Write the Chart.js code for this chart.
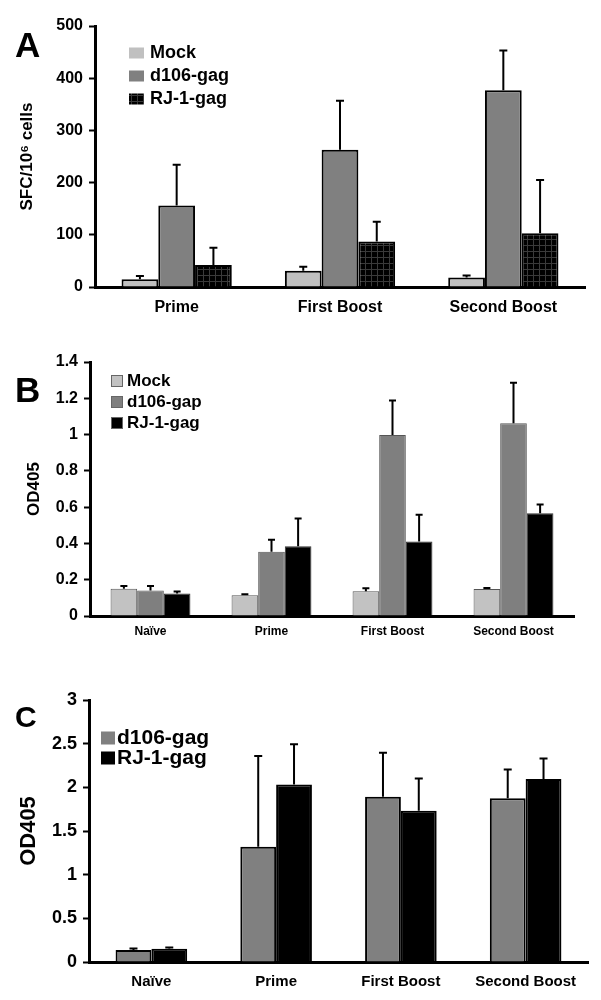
<!DOCTYPE html>
<html>
<head>
<meta charset="utf-8">
<script src="https://cdn.jsdelivr.net/npm/chart.js@4.4.1/dist/chart.umd.min.js"></script>
<style>
  body { margin: 0; background: #fff; width: 601px; }
  canvas { display: block; }
</style>
</head>
<body>
<canvas id="chartA" width="601" height="320"></canvas>
<canvas id="chartB" width="601" height="330"></canvas>
<canvas id="chartC" width="601" height="350"></canvas>
<script>
// panel A - ELISPOT
const catsA = ['Prime', 'First Boost', 'Second Boost'];
const mockA = [15, 31, 18];
const mockErrA = [6, 8, 4];
const d106A = [156, 263, 377];
const d106ErrA = [78, 94, 76];
const rjA = [42, 87, 103];
const rjErrA = [33, 38, 102];

// panel B - OD405
const catsB = ['Naïve', 'Prime', 'First Boost', 'Second Boost'];
const mockB = [0.15, 0.114, 0.136, 0.149];
const mockErrB = [0.015, 0.006, 0.017, 0.006];
const d106B = [0.14, 0.354, 0.998, 1.063];
const d106ErrB = [0.026, 0.066, 0.19, 0.223];
const rjB = [0.124, 0.385, 0.411, 0.567];
const rjErrB = [0.011, 0.153, 0.147, 0.048];

// panel C - OD405
const catsC = ['Naïve', 'Prime', 'First Boost', 'Second Boost'];
const d106C = [0.137, 1.319, 1.891, 1.876];
const d106ErrC = [0.019, 1.041, 0.504, 0.328];
const rjC = [0.152, 2.032, 1.731, 2.094];
const rjErrC = [0.015, 0.462, 0.369, 0.236];

const FONT = '"Liberation Sans", Arial, sans-serif';
const bold = (size) => ({ family: FONT, weight: 'bold', size: size });

// one-sided error bars on top of each bar
const errorBars = {
	id: 'errorBars',
	afterDatasetsDraw(chart, args, opts) {
		const ctx = chart.ctx;
		const yScale = chart.scales.y;
		chart.data.datasets.forEach((ds, i) => {
			if (!ds.errors) return;
			chart.getDatasetMeta(i).data.forEach((bar, j) => {
				const top = yScale.getPixelForValue(ds.data[j] + ds.errors[j]);
				ctx.save();
				ctx.strokeStyle = '#000';
				ctx.lineWidth = opts.width;
				ctx.beginPath();
				ctx.moveTo(bar.x, bar.y);
				ctx.lineTo(bar.x, top);
				ctx.moveTo(bar.x - opts.cap, top);
				ctx.lineTo(bar.x + opts.cap, top);
				ctx.stroke();
				ctx.restore();
			});
		});
	}
};

// panel letter + legend inside the plot
const panelDecor = {
	id: 'panelDecor',
	afterDraw(chart, args, opts) {
		const ctx = chart.ctx;
		ctx.save();
		ctx.fillStyle = '#000';
		ctx.textBaseline = 'alphabetic';
		ctx.font = `bold ${opts.letterSize}px ${FONT}`;
		ctx.fillText(opts.letter, opts.letterX, opts.letterY);
		ctx.font = `bold ${opts.size}px ${FONT}`;
		ctx.textBaseline = 'middle';
		chart.data.datasets.forEach((ds, i) => {
			const cy = opts.y + i * opts.step;
			ctx.fillStyle = ds.backgroundColor;
			ctx.fillRect(opts.x, cy - opts.boxH / 2, opts.boxW, opts.boxH);
			if (opts.stroke) {
				ctx.strokeStyle = opts.stroke;
				ctx.lineWidth = 1;
				ctx.strokeRect(opts.x + 0.5, cy - opts.boxH / 2 + 0.5, opts.boxW - 1, opts.boxH - 1);
			}
			ctx.fillStyle = '#000';
			ctx.fillText(ds.label, opts.textX, cy);
		});
		ctx.restore();
	}
};

function makeScales(cfg) {
	return {
		x: {
			ticks: { color: '#000', font: bold(cfg.xFont), padding: cfg.xPad },
			grid: { display: false, drawTicks: false },
			border: { color: '#000', width: 3 },
			afterFit: (s) => { s.height = cfg.xHeight; s.paddingLeft = 0; s.paddingRight = 0; }
		},
		y: {
			min: 0,
			max: cfg.max,
			ticks: {
				stepSize: cfg.step,
				color: '#000',
				font: bold(cfg.yFont),
				padding: 6,
				callback: (v) => String(+v.toFixed(2))
			},
			grid: { drawOnChartArea: false, drawTicks: true, tickLength: 6, tickWidth: 2, tickColor: '#000' },
			border: { color: '#000', width: 3 },
			title: { display: true, text: cfg.title, color: '#000', font: bold(cfg.titleFont), padding: { top: cfg.titlePad, bottom: 0 } },
			afterFit: (s) => { s.width = cfg.yWidth; s.paddingTop = 0; s.paddingBottom = 0; }
		}
	};
}

// black with faint grid, like the RJ-1-gag bars in panel A
const ctxA = document.getElementById('chartA').getContext('2d');
const tile = document.createElement('canvas');
tile.width = 6;
tile.height = 6;
const tg = tile.getContext('2d');
tg.fillStyle = '#000';
tg.fillRect(0, 0, 6, 6);
tg.fillStyle = '#3a3a3a';
tg.fillRect(5, 0, 1, 6);
tg.fillRect(0, 5, 6, 1);
const gridFill = ctxA.createPattern(tile, 'repeat');

new Chart(ctxA, {
	type: 'bar',
	data: {
		labels: catsA,
		datasets: [
			{ label: 'Mock', data: mockA, errors: mockErrA, backgroundColor: '#c0c0c0', borderColor: '#000', borderWidth: 2 },
			{ label: 'd106-gag', data: d106A, errors: d106ErrA, backgroundColor: '#808080', borderColor: '#000', borderWidth: 2 },
			{ label: 'RJ-1-gag', data: rjA, errors: rjErrA, backgroundColor: gridFill, borderColor: '#000', borderWidth: 2 }
		]
	},
	options: {
		responsive: false,
		animation: false,
		categoryPercentage: 0.675,
		barPercentage: 1,
		layout: { padding: { left: 0, top: 26, right: 16, bottom: 0 } },
		plugins: {
			legend: { display: false },
			tooltip: { enabled: false },
			errorBars: { width: 2, cap: 4 },
			panelDecor: { letter: 'A', letterSize: 35, letterX: 15, letterY: 57, x: 129, y: 53, step: 23, boxW: 15, boxH: 11, textX: 150, size: 18 }
		},
		scales: makeScales({ xFont: 16, xPad: 11, xHeight: 33, max: 500, step: 100, yFont: 16, title: 'SFC/10⁶ cells', titleFont: 17, titlePad: 17, yWidth: 95 })
	},
	plugins: [errorBars, panelDecor]
});

new Chart(document.getElementById('chartB'), {
	type: 'bar',
	data: {
		labels: catsB,
		datasets: [
			{ label: 'Mock', data: mockB, errors: mockErrB, backgroundColor: '#c2c2c2', borderColor: '#555', borderWidth: 1 },
			{ label: 'd106-gap', data: d106B, errors: d106ErrB, backgroundColor: '#7f7f7f', borderColor: '#555', borderWidth: 1 },
			{ label: 'RJ-1-gag', data: rjB, errors: rjErrB, backgroundColor: '#000', borderColor: '#333', borderWidth: 1 }
		]
	},
	options: {
		responsive: false,
		animation: false,
		categoryPercentage: 0.66,
		barPercentage: 1,
		layout: { padding: { left: 0, top: 42, right: 27, bottom: 0 } },
		plugins: {
			legend: { display: false },
			tooltip: { enabled: false },
			errorBars: { width: 2, cap: 3.5 },
			panelDecor: { letter: 'B', letterSize: 35, letterX: 15, letterY: 82, x: 111, y: 61, step: 21, boxW: 12, boxH: 12, textX: 127, size: 17, stroke: '#666' }
		},
		scales: makeScales({ xFont: 12, xPad: 8, xHeight: 34, max: 1.4, step: 0.2, yFont: 16, title: 'OD405', titleFont: 17, titlePad: 24, yWidth: 90 })
	},
	plugins: [errorBars, panelDecor]
});

new Chart(document.getElementById('chartC'), {
	type: 'bar',
	data: {
		labels: catsC,
		datasets: [
			{ label: 'd106-gag', data: d106C, errors: d106ErrC, backgroundColor: '#808080', borderColor: '#000', borderWidth: 2 },
			{ label: 'RJ-1-gag', data: rjC, errors: rjErrC, backgroundColor: '#000', borderColor: '#000', borderWidth: 2 }
		]
	},
	options: {
		responsive: false,
		animation: false,
		categoryPercentage: 0.574,
		barPercentage: 1,
		layout: { padding: { left: 0, top: 50, right: 13, bottom: 0 } },
		plugins: {
			legend: { display: false },
			tooltip: { enabled: false },
			errorBars: { width: 2, cap: 4 },
			panelDecor: { letter: 'C', letterSize: 30, letterX: 15, letterY: 77, x: 101, y: 88, step: 20, boxW: 14, boxH: 13, textX: 117, size: 21 }
		},
		scales: makeScales({ xFont: 15, xPad: 11, xHeight: 38, max: 3, step: 0.5, yFont: 18, title: 'OD405', titleFont: 22, titlePad: 16, yWidth: 89 })
	},
	plugins: [errorBars, panelDecor]
});
</script>
</body>
</html>
